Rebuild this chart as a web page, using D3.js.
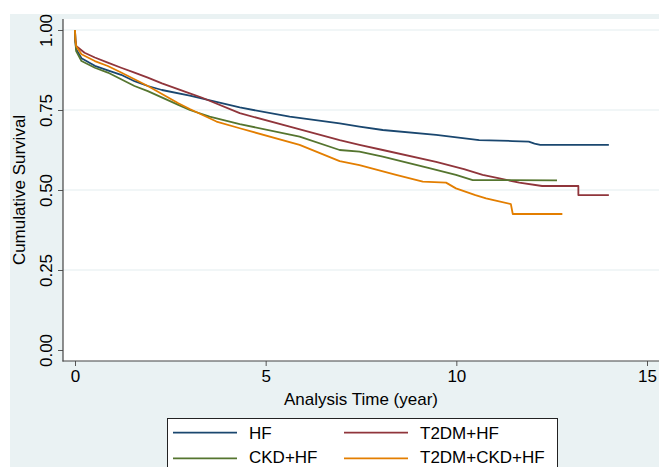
<!DOCTYPE html>
<html>
<head>
<meta charset="utf-8">
<script src="https://cdn.jsdelivr.net/npm/d3@7"></script>
<style>
html,body{margin:0;padding:0;background:#fff;}
svg{display:block;font-family:"Liberation Sans",Arial,sans-serif;}
</style>
</head>
<body>
<svg id="chart" width="659" height="467"></svg>
<script>
// ---- data (time in years, cumulative survival) ----
const seriesNames = ["HF", "T2DM+HF", "CKD+HF", "T2DM+CKD+HF"];
const xTicks = [0, 5, 10, 15];
const yTicks = [0, 0.25, 0.5, 0.75, 1];
const yTickLabels = ["0.00", "0.25", "0.50", "0.75", "1.00"];

const hf = [[0,1],[0.01,0.965],[0.03,0.94],[0.17,0.912],[0.52,0.888],[0.86,0.874],[1.21,0.86],[1.56,0.84],[1.91,0.825],[2.28,0.8125],[3.01,0.795],[4.32,0.758],[5.63,0.729],[6.94,0.708],[7.46,0.698],[8.07,0.6875],[9.47,0.672],[10.6,0.656],[11.47,0.653],[11.9,0.651],[12.05,0.645],[12.2,0.641],[14.0,0.641]];
const t2dmHf = [[0,1],[0.01,0.97],[0.03,0.95],[0.25,0.929],[0.52,0.914],[0.86,0.898],[1.21,0.882],[1.56,0.867],[1.91,0.851],[2.28,0.833],[3.01,0.802],[3.32,0.789],[4.32,0.74],[5.63,0.698],[6.94,0.656],[7.46,0.641],[8.07,0.625],[9.47,0.588],[10.2,0.565],[10.69,0.547],[11.13,0.536],[11.65,0.523],[12.25,0.5125],[13.2,0.5125],[13.2,0.484],[14.0,0.484]];
const ckdHf = [[0,1],[0.01,0.965],[0.03,0.934],[0.17,0.903],[0.52,0.882],[0.86,0.867],[1.21,0.846],[1.56,0.825],[1.91,0.809],[2.71,0.766],[3.01,0.75],[3.53,0.729],[4.32,0.706],[5.89,0.667],[6.94,0.625],[7.46,0.62],[8.07,0.604],[9.29,0.568],[9.99,0.547],[10.43,0.531],[12.64,0.53]];
const t2dmCkdHf = [[0,1],[0.01,0.97],[0.03,0.95],[0.17,0.924],[0.52,0.903],[0.86,0.8875],[1.21,0.867],[1.56,0.846],[1.91,0.825],[2.71,0.771],[3.01,0.753],[3.71,0.714],[4.32,0.693],[5.89,0.641],[6.94,0.59],[7.46,0.578],[8.42,0.547],[9.12,0.526],[9.73,0.523],[9.99,0.505],[10.5,0.484],[10.78,0.474],[10.95,0.469],[11.43,0.456],[11.48,0.425],[12.78,0.425]];

const seriesData = [hf, t2dmHf, ckdHf, t2dmCkdHf];
const colors = ["#1a476f", "#90353b", "#55752f", "#e37e00"];

// ---- layout ----
const svg = d3.select("#chart");
const FONT = 17;
svg.append("rect").attr("x",10).attr("y",14).attr("width",649).attr("height",453).attr("fill","#eaf2f3");
svg.append("rect").attr("x",63).attr("y",19).attr("width",596).attr("height",342).attr("fill","#ffffff");

const x = d3.scaleLinear().domain([0,15]).range([75,647]);
const y = d3.scaleLinear().domain([0,1]).range([350,30]);

// gridlines
svg.append("g").selectAll("line").data(yTicks.filter(d=>d>0)).join("line")
  .attr("x1",63).attr("x2",659).attr("y1",d=>y(d)).attr("y2",d=>y(d))
  .attr("stroke","#e4eef0").attr("stroke-width",1.2);

// curves
const line = d3.line().x(d=>x(d[0])).y(d=>y(d[1]));
svg.append("g").selectAll("path").data(seriesData).join("path")
  .attr("d", line).attr("fill","none")
  .attr("stroke",(d,i)=>colors[i]).attr("stroke-width",1.8)
  .attr("stroke-linejoin","round");

// axes
const xAxis = d3.axisBottom(x).tickValues(xTicks).tickSize(5).tickPadding(4).tickFormat(d3.format("d"));
const gx = svg.append("g").attr("transform","translate(0,361)").call(xAxis);
gx.select(".domain").remove();
gx.selectAll(".tick line").attr("stroke","#555");
gx.selectAll(".tick text").attr("font-size",FONT).attr("fill","#000").attr("font-family","Liberation Sans, Arial, sans-serif").attr("dy","0.72em");

const yAxis = d3.axisLeft(y).tickValues(yTicks).tickSize(5).tickFormat((d,i)=>yTickLabels[i]);
const gy = svg.append("g").attr("transform","translate(63,0)").call(yAxis);
gy.select(".domain").remove();
gy.selectAll(".tick line").attr("stroke","#555");
gy.selectAll(".tick text").attr("font-size",FONT).attr("fill","#000").attr("font-family","Liberation Sans, Arial, sans-serif")
  .attr("x",null).attr("dy",null).attr("text-anchor","middle")
  .attr("transform","translate(-11,0) rotate(-90)");

svg.append("line").attr("x1",63).attr("x2",63).attr("y1",19).attr("y2",361.5).attr("stroke","#444").attr("stroke-width",1.2);
svg.append("line").attr("x1",62.5).attr("x2",659).attr("y1",361).attr("y2",361).attr("stroke","#444").attr("stroke-width",1.2);

// titles
svg.append("text").attr("x",361).attr("y",405).attr("text-anchor","middle").attr("font-size",FONT).text("Analysis Time (year)");
svg.append("text").attr("transform","translate(25,190) rotate(-90)").attr("text-anchor","middle").attr("font-size",FONT).text("Cumulative Survival");

// legend
svg.append("rect").attr("x",167.5).attr("y",418.5).attr("width",390).attr("height",70).attr("fill","#fff").attr("stroke","#222").attr("stroke-width",1);
const legPos = [[173,432.7],[344,432.7],[173,458.3],[344,458.3]];
seriesNames.forEach((n,i)=>{
  const [lx,ly] = legPos[i];
  svg.append("line").attr("x1",lx).attr("x2",lx+64).attr("y1",ly).attr("y2",ly).attr("stroke",colors[i]).attr("stroke-width",1.8);
  svg.append("text").attr("x",lx+76).attr("y",Math.min(ly+6.5,463)).attr("font-size",FONT).text(n);
});
</script>
</body>
</html>
